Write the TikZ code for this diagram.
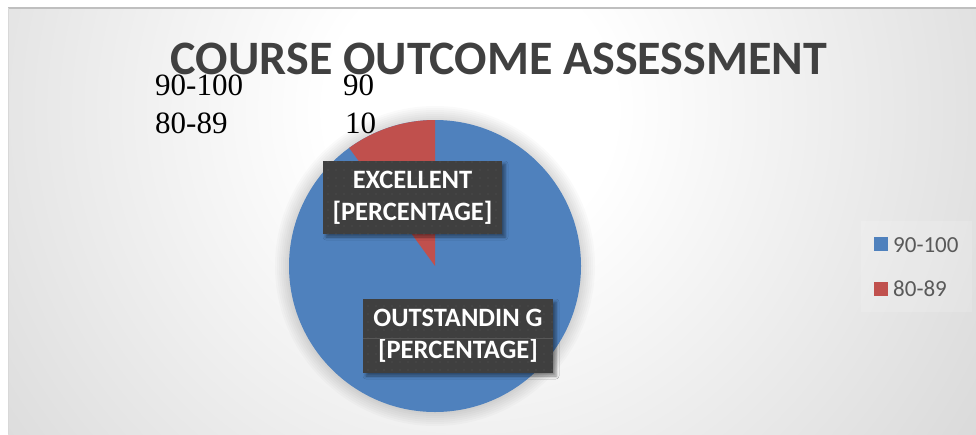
\documentclass[tikz,border=0pt]{standalone}
\usepackage{fontspec}
\setmainfont{Liberation Serif}
\newfontfamily\calibri{Carlito}
\usetikzlibrary{shadows.blur,patterns.meta}
\definecolor{pieblue}{HTML}{4F81BD}
\definecolor{piered}{HTML}{C0504D}
\definecolor{titlegray}{HTML}{404040}
\definecolor{leggray}{HTML}{595959}
\definecolor{labelbg}{HTML}{3F3F3F}
\definecolor{dotgray}{HTML}{585858}
\definecolor{edgegray}{HTML}{BEBEBE}
\definecolor{bordergray}{HTML}{BFBFBF}
\tikzset{
  datalabel/.style={fill=labelbg, inner sep=0pt, align=center, text=white,
    font=\calibri\bfseries\fontsize{26.5}{32}\selectfont,
    blur shadow={shadow xshift=3pt, shadow yshift=-3pt, shadow blur radius=3pt, shadow opacity=45},
    postaction={pattern={Dots[distance=8pt, radius=0.7pt]}, pattern color=dotgray}},
  tabletext/.style={font=\fontsize{31}{31}\selectfont, inner sep=0pt},
  legtext/.style={font=\calibri\fontsize{23}{23}\selectfont, text=leggray, inner sep=0pt, anchor=base west},
  legkey/.style={minimum size=14pt, inner sep=0pt, anchor=north west},
  pieshadow/.style={fill=black, fill opacity=0.018},
}
\pgfdeclareradialshading{bgshade}{\pgfpoint{0bp}{0bp}}{color(0bp)=(white); color(5bp)=(white); color(33bp)=(edgegray); color(50bp)=(edgegray)}
\begin{document}
\begin{tikzpicture}[x=1pt,y=-1pt]
\useasboundingbox (0,0) rectangle (976,434);
\fill[white] (0,0) rectangle (976,434);
% chart area background
\begin{scope}
  \clip (8,7) rectangle (976,434);
  \fill[edgegray] (8,7) rectangle (976,434);
  \shade[shading=bgshade] (470,110) circle (720pt);
\end{scope}
\draw[bordergray, line width=2pt] (8,8) -- (976,8);
\draw[bordergray!60, line width=1pt] (8.5,8) -- (8.5,434);
% title
\node[font=\calibri\bfseries\fontsize{48}{48}\selectfont, text=titlegray, anchor=base, inner sep=0pt] (title) at (499,74) {COURSE OUTCOME ASSESSMENT};
% table text
\node[tabletext, anchor=base west] (t1) at (155,95) {90-100};
\node[tabletext, anchor=base west] (t2) at (343,95) {90};
\node[tabletext, anchor=base west] (t3) at (155,133) {80-89};
\node[tabletext, anchor=base west] (t4) at (345,133) {10};
% pie
\begin{scope}[shift={(435,266)}, y=1pt]
  \foreach \r in {160,158,...,147} { \fill[pieshadow] (0,0) circle (\r pt); }
  \fill[pieblue] (0,0) circle (146pt);
  \fill[piered] (0,0) -- (90:146pt) arc[start angle=90, end angle=126, radius=146pt] -- cycle;
  \coordinate (pc) at (0,0);
\end{scope}
% data labels
\node[datalabel, minimum width=179pt, minimum height=73pt] (lab1) at (412.5,197.5) {EXCELLENT\\{}[PERCENTAGE]};
\node[datalabel, minimum width=190pt, minimum height=74pt] (lab2) at (458,336) {OUTSTANDIN G\\{}[PERCENTAGE]};
\draw[dotgray, line width=0.6pt] (lab2.west |- 0,338) -- (lab2.east |- 0,338);
% legend
\fill[white, opacity=0.15] (861,221) rectangle (972,312);
\node[legkey, fill=pieblue] (k1) at (874,237) {};
\node[legtext] (l1) at (893,252) {90-100};
\node[legkey, fill=piered] (k2) at (874,282) {};
\node[legtext] (l2) at (893,296) {80-89};
\end{tikzpicture}
\end{document}
